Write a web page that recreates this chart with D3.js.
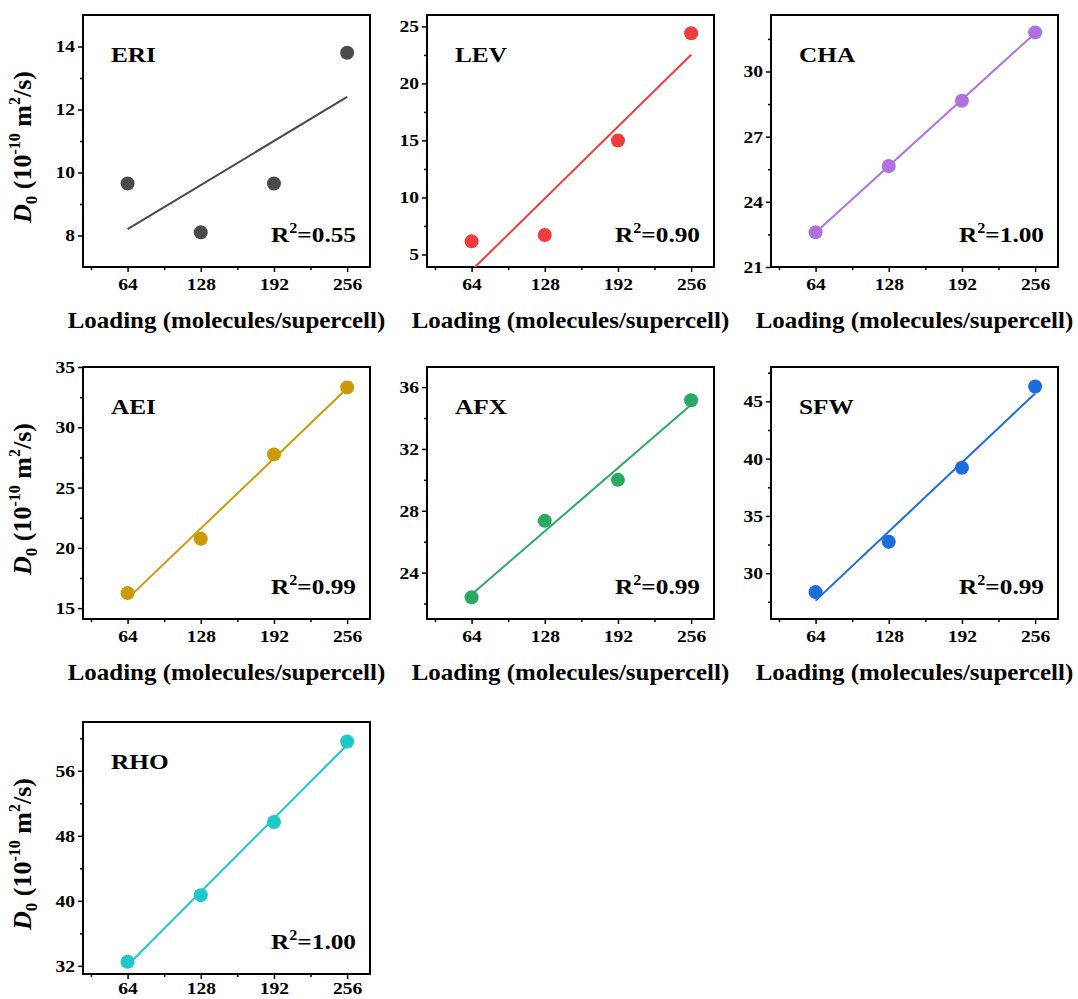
<!DOCTYPE html>
<html>
<head>
<meta charset="utf-8">
<script src="https://cdn.jsdelivr.net/npm/d3@7"></script>
<style>
  body { margin: 0; background: #fff; }
  text { font-family: "Liberation Serif", "Times New Roman", serif; font-weight: bold; fill: #000; }
</style>
</head>
<body>
<div id="chart"></div>
<script>
// data
var loading = [64, 128, 192, 256];
var names = ["ERI", "LEV", "CHA", "AEI", "AFX", "SFW", "RHO"];
var eri = [9.65, 8.1, 9.65, 13.8],
    lev = [6.15, 6.7, 15.0, 24.4],
    cha = [22.6, 25.65, 28.65, 31.8],
    aei = [16.25, 20.75, 27.75, 33.3],
    afx = [22.4, 27.35, 30.0, 35.15],
    sfw = [28.35, 32.75, 39.2, 46.3],
    rho = [32.5, 40.7, 49.7, 59.6];
var series = [eri, lev, cha, aei, afx, sfw, rho];
var colors = ["#4a4a4a", "#f03c3c", "#b070e0", "#cc9a06", "#2aaa60", "#1c6cdc", "#1cc8c8"];
var r2Labels = ["0.55", "0.90", "1.00", "0.99", "0.99", "0.99", "1.00"];

var yDomains = [[7, 15], [3.9, 26], [21, 32.6], [14.1, 35], [21, 37.3], [26, 48], [31, 62]];
var yMajor = [[8, 10, 12, 14], [5, 10, 15, 20, 25], [21, 24, 27, 30], [15, 20, 25, 30, 35],
              [24, 28, 32, 36], [30, 35, 40, 45], [32, 40, 48, 56]];
var yMinor = [[9, 11, 13], [7.5, 12.5, 17.5, 22.5], [22.5, 25.5, 28.5, 31.5], [17.5, 22.5, 27.5, 32.5],
              [22, 26, 30, 34], [27.5, 32.5, 37.5, 42.5, 47.5], [36, 44, 52, 60]];
var xMajor = [64, 128, 192, 256],
    xMinor = [32, 96, 160, 224];

var colLeft = [83, 427, 771],
    rowTop = [15, 367, 722],
    width = 287,
    height = 252,
    stretch = "scale(1.15,1)";   // the original lettering is a bit wide

var svg = d3.select("#chart").append("svg")
    .attr("width", 1078)
    .attr("height", 999);

function fit(xs, ys) {
    var mx = d3.mean(xs), my = d3.mean(ys);
    var num = d3.sum(xs, function(x, i) { return (x - mx) * (ys[i] - my); });
    var den = d3.sum(xs, function(x) { return (x - mx) * (x - mx); });
    var b = num / den;
    return function(x) { return my + b * (x - mx); };
}

names.forEach(function(name, k) {
    var col = k % 3, row = Math.floor(k / 3);
    var g = svg.append("g")
        .attr("transform", "translate(" + colLeft[col] + "," + rowTop[row] + ")");

    var x = d3.scaleLinear().domain([25, 276]).range([0, width]);
    var y = d3.scaleLinear().domain(yDomains[k]).range([height, 0]);

    // clip for the fit line
    g.append("clipPath").attr("id", "clip" + k)
      .append("rect").attr("width", width).attr("height", height);

    // axes
    g.append("g").attr("transform", "translate(0," + height + ")")
        .call(d3.axisBottom(x).tickValues(xMajor).tickSize(5).tickPadding(row < 2 ? 6 : 3).tickFormat(d3.format("d")));
    g.append("g").attr("transform", "translate(0," + height + ")")
        .call(d3.axisBottom(x).tickValues(xMinor).tickSize(3).tickFormat(""));
    g.append("g")
        .call(d3.axisLeft(y).tickValues(yMajor[k]).tickSize(5).tickPadding(2).tickFormat(d3.format("d")));
    g.append("g")
        .call(d3.axisLeft(y).tickValues(yMinor[k]).tickSize(3).tickFormat(""));
    g.selectAll(".domain").remove();
    g.selectAll(".tick line").attr("stroke", "#000").attr("stroke-width", 1.5);
    g.selectAll(".tick text")
        .attr("font-family", "Liberation Serif, serif")
        .attr("font-weight", "bold")
        .attr("font-size", 17)
        .attr("transform", stretch);

    // frame
    g.append("rect")
        .attr("width", width).attr("height", height)
        .attr("fill", "none").attr("stroke", "#000").attr("stroke-width", 2);

    // fit line
    var f = fit(loading, series[k]);
    var ends = [loading[0], loading[loading.length - 1]];
    g.append("path")
        .datum(ends)
        .attr("clip-path", "url(#clip" + k + ")")
        .attr("fill", "none")
        .attr("stroke", colors[k])
        .attr("stroke-width", 2)
        .attr("d", d3.line().x(function(d) { return x(d); }).y(function(d) { return y(f(d)); }));

    // points
    g.selectAll("circle.pt")
        .data(series[k])
      .enter().append("circle")
        .attr("class", "pt")
        .attr("cx", function(d, i) { return x(loading[i]); })
        .attr("cy", function(d) { return y(d); })
        .attr("r", 7)
        .attr("fill", colors[k]);

    // panel label
    g.append("g").attr("transform", "translate(28,47) " + stretch)
      .append("text")
        .attr("font-size", 22)
        .text(name);

    // R^2
    var r2 = g.append("g").attr("transform", "translate(" + (width - 14) + "," + (height - 25) + ") " + stretch)
      .append("text")
        .attr("text-anchor", "end")
        .attr("font-size", 22);
    r2.append("tspan").text("R");
    r2.append("tspan").attr("font-size", 14).attr("dy", -9).text("2");
    r2.append("tspan").attr("dy", 9).text("=" + r2Labels[k]);

    // x title (bottom row is cut off in the original)
    if (row < 2) {
        g.append("g").attr("transform", "translate(" + (width / 2) + "," + (height + 61) + ") scale(1.04,1)")
          .append("text")
            .attr("text-anchor", "middle")
            .attr("font-size", 24)
            .text("Loading (molecules/supercell)");
    }

    // y title on the left column
    if (col === 0) {
        var yt = g.append("text")
            .attr("transform", "translate(-52," + (height / 2 + 6) + ") rotate(-90)")
            .attr("text-anchor", "middle")
            .attr("font-size", 26);
        yt.append("tspan").attr("font-style", "italic").text("D");
        yt.append("tspan").attr("font-size", 17).attr("dy", 6).text("0");
        yt.append("tspan").attr("dy", -6).text(" (10");
        yt.append("tspan").attr("font-size", 16).attr("dy", -11).text("-10");
        yt.append("tspan").attr("dy", 11).text(" m");
        yt.append("tspan").attr("font-size", 16).attr("dy", -11).text("2");
        yt.append("tspan").attr("dy", 11).text("/s)");
    }
});
</script>
</body>
</html>
